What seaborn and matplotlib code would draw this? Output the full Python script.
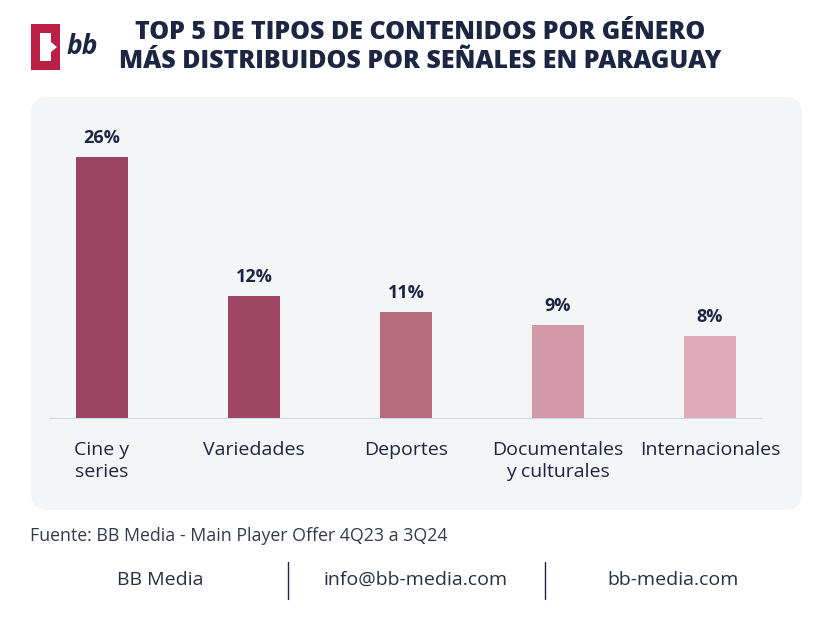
import matplotlib
matplotlib.use("Agg")
import matplotlib.pyplot as plt
from matplotlib.patches import FancyBboxPatch, Rectangle, Polygon
from matplotlib.lines import Line2D
import seaborn as sns
import pandas as pd

# data
categories = ["Cine y\nseries", "Variedades", "Deportes", "Documentales\ny culturales", "Internacionales"]
shares = [26.0, 12.2, 10.6, 9.3, 8.2]
bar_colors = ["#9c4462", "#9f4662", "#b66b7e", "#d499a8", "#e1aab9"]

title = "TOP 5 DE TIPOS DE CONTENIDOS POR GÉNERO\nMÁS DISTRIBUIDOS POR SEÑALES EN PARAGUAY"
source = "Fuente: BB Media - Main Player Offer 4Q23 a 3Q24"
footer_items = ["BB Media", "info@bb-media.com", "bb-media.com"]

navy = "#1c2541"
W, H = 833, 625

sns.set_theme(style="white")
plt.rcParams["font.family"] = ["Open Sans", "DejaVu Sans"]

fig = plt.figure(figsize=(W / 100, H / 100), dpi=100)
fig.patch.set_facecolor("white")

def fx(px):
    return px / W

def fy(py):
    return 1 - py / H

# light rounded panel behind the chart
panel = FancyBboxPatch((fx(31), fy(510)), fx(771), (510 - 97) / H,
                       boxstyle="round,pad=0,rounding_size=0.02",
                       transform=fig.transFigure, facecolor="#f4f5f7",
                       edgecolor="none", zorder=-5, mutation_aspect=W / H)
fig.patches.append(panel)

# axes placed so bars sit where they do in the reference
ax = fig.add_axes([fx(26), fy(419), fx(760), (419 - 100) / H])
ax.set_facecolor("none")
ax.set_zorder(2)

df = pd.DataFrame({"categoria": categories, "share": shares})
sns.barplot(data=df, x="categoria", y="share", hue="categoria",
            palette=bar_colors, legend=False, width=0.34, saturation=1,
            linewidth=0, ax=ax, zorder=2)

ax.set_xlim(-0.5, 4.5)
ax.set_ylim(0, 319 / 10.08)
ax.axhline(0, xmin=0.032, xmax=0.968, color="#c9d9f0", lw=1.5, zorder=3)

for i, v in enumerate(shares):
    ax.text(i, v + 1.0, f"{round(v)}%", ha="center", va="bottom",
            fontsize=13, fontweight="bold", color=navy)

ax.set_xlabel("")
ax.set_ylabel("")
ax.set_yticks([])
ax.tick_params(axis="x", length=0, pad=16)
ax.set_xticks(range(len(categories)))
ax.set_xticklabels(categories, fontsize=14, color=navy, linespacing=1.3)
for lab in ax.get_xticklabels():
    lab.set_verticalalignment("top")
for s in ax.spines.values():
    s.set_visible(False)

# title
fig.text(fx(420), fy(47), title, ha="center", va="center", fontsize=18,
         fontweight="heavy", color=navy, linespacing=1.25)

# logo
fig.patches.append(Rectangle((fx(31), fy(70)), fx(29), 46 / H,
                             transform=fig.transFigure, facecolor="#bb1f45",
                             edgecolor="none"))
fig.patches.append(Polygon([(fx(40), fy(33)), (fx(51), fy(33)), (fx(51), fy(42)),
                            (fx(57), fy(47)), (fx(51), fy(52)), (fx(51), fy(61)),
                            (fx(40), fy(61))],
                           closed=True, transform=fig.transFigure,
                           facecolor="white", edgecolor="none"))
fig.text(fx(67), fy(46), "bb", ha="left", va="center", fontsize=19,
         fontweight="bold", fontstyle="italic", color=navy)

# source and footer
fig.text(fx(30), fy(536), source, ha="left", va="center", fontsize=12.8,
         color="#333a4a")
for x, item in zip([160, 416, 673], footer_items):
    fig.text(fx(x), fy(580), item, ha="center", va="center", fontsize=14,
             color="#2a3042")
for x in [288, 545]:
    fig.lines.append(Line2D([fx(x), fx(x)], [fy(562), fy(599)],
                            transform=fig.transFigure, color=navy, lw=1))

fig.savefig("out.png", dpi=100)
